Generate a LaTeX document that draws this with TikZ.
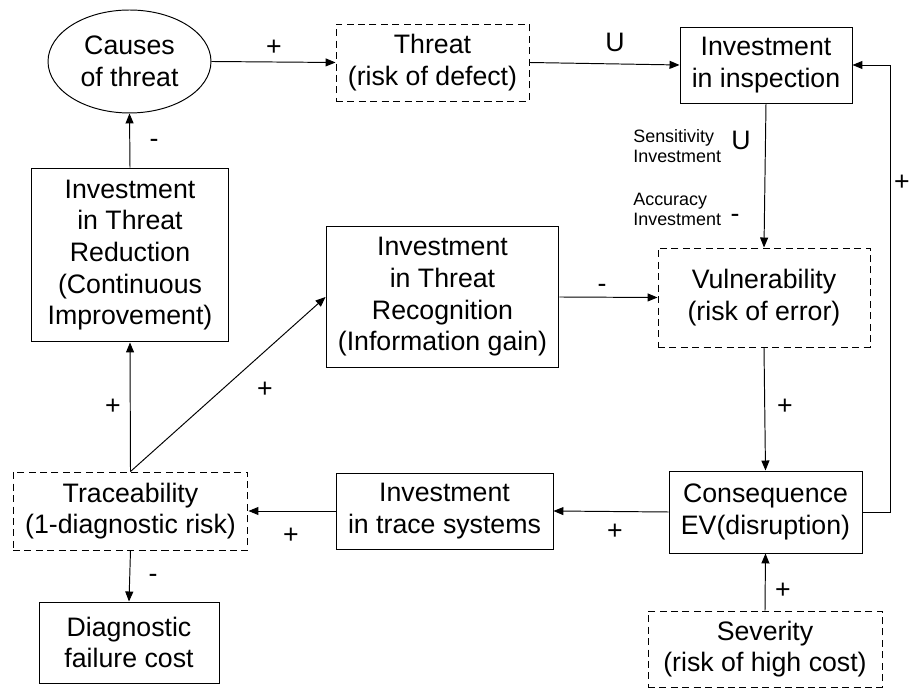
\documentclass[tikz,border=0pt]{standalone}
\usepackage{fontspec}
\setmainfont{Liberation Sans}
\usetikzlibrary{arrows.meta,shapes.geometric}

\tikzset{
  box/.style={draw, line width=0.55pt, align=center, inner sep=0pt,
    font=\fontsize{15.2}{18}\selectfont},
  riskbox/.style={box, dash pattern=on 4pt off 2.5pt},
  sign/.style={inner sep=0pt, font=\fontsize{15.2}{18}\selectfont},
  note/.style={inner sep=0pt, anchor=west, align=left,
    font=\fontsize{10.2}{11.4}\selectfont},
  link/.style={line width=0.55pt, -{Triangle[length=2mm,width=1.6mm]}},
}

\begin{document}
\begin{tikzpicture}[x=0.02cm, y=-0.02cm]
  \useasboundingbox (0,0) rectangle (910,688);
  \node[box, ellipse, minimum width=3.26cm, minimum height=2.06cm] (cause) at (129.5,61.5) {Causes\\of threat};
  \node[riskbox, minimum width=3.86cm, minimum height=1.54cm] (threat) at (432.5,62.5) {Threat\\(risk of defect)};
  \node[box, minimum width=3.44cm, minimum height=1.52cm] (inspect) at (766,65) {Investment\\in inspection};
  \node[box, minimum width=3.96cm, minimum height=3.48cm] (reduce) at (130,255) {Investment\\in Threat\\Reduction\\(Continuous\\Improvement)};
  \node[box, minimum width=4.66cm, minimum height=2.84cm] (recog) at (442.5,297) {Investment\\in Threat\\Recognition\\(Information gain)};
  \node[riskbox, minimum width=4.24cm, minimum height=1.98cm] (vuln) at (764,297.5) {Vulnerability\\(risk of error)};
  \node[riskbox, minimum width=4.7cm, minimum height=1.56cm] (trace) at (130.5,511) {Traceability\\(1-diagnostic risk)};
  \node[box, minimum width=4.34cm, minimum height=1.52cm] (tracesys) at (444.5,511) {Investment\\in trace systems};
  \node[box, minimum width=3.86cm, minimum height=1.64cm] (conseq) at (765.5,512) {Consequence\\EV(disruption)};
  \node[box, minimum width=3.6cm, minimum height=1.62cm] (diag) at (129,642.5) {Diagnostic\\failure cost};
  \node[riskbox, minimum width=4.68cm, minimum height=1.52cm] (sever) at (765,649) {Severity\\(risk of high cost)};

  \draw[link] (cause.east) -- (threat.west);
  \draw[link] (threat.east) -- (inspect.west);
  \draw[link] (inspect.south) -- (vuln.north);
  \draw[link] (reduce.north) -- (cause.south);
  \draw[link] (recog.east) -- (vuln.west);
  \draw[link] (trace.north) -- (reduce.south);
  \draw[link] (trace.north) -- (recog.west);
  \draw[link] (vuln.south) -- (conseq.north);
  \draw[link] (conseq.west) -- (tracesys.east);
  \draw[link] (tracesys.west) -- (trace.east);
  \draw[link] (trace.south) -- (diag.north);
  \draw[link] (sever.north) -- (conseq.south);
  \draw[link] (conseq.east) -- ++(28,0) |- (inspect.east);

  \node[sign] (sCT) at (274,48) {+};
  \node[sign] (sTI) at (615,42) {U};
  \node[sign] (sRC) at (154,143) {-};
  \node[note] (sens) at (633,146) {Sensitivity\\Investment};
  \node[sign] (sSens) at (741,140) {U};
  \node[note] (accu) at (633,209) {Accuracy\\Investment};
  \node[sign] (sAccu) at (735,218) {-};
  \node[sign] (sRV) at (602,288) {-};
  \node[sign] (sCI) at (902,183) {+};
  \node[sign] (sTR) at (113,407) {+};
  \node[sign] (sTG) at (265,390) {+};
  \node[sign] (sVC) at (785,407) {+};
  \node[sign] (sCS) at (615,532) {+};
  \node[sign] (sST) at (291,536) {+};
  \node[sign] (sTD) at (153,578) {-};
  \node[sign] (sSC) at (783,591) {+};
\end{tikzpicture}
\end{document}
